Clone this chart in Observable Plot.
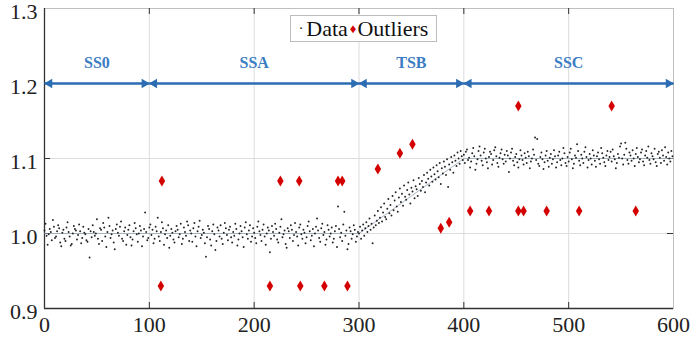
<!DOCTYPE html>
<html>
<head>
<meta charset="utf-8">
<script src="https://cdn.jsdelivr.net/npm/d3@7"></script>
<script src="https://cdn.jsdelivr.net/npm/@observablehq/plot@0.6"></script>
<style>
  body { margin: 0; background: white; }
  #wrap { position: relative; width: 691px; height: 343px; }
  #legend {
    position: absolute; left: 290px; top: 15px; width: 147px; height: 27px;
    border: 1px solid #bdbdbd; background: white; box-sizing: border-box;
    font-family: "Liberation Serif", serif; font-size: 22px; color: #111;
    display: flex; align-items: center; justify-content: center; white-space: nowrap;
    line-height: 1;
  }
  #legend .dot { font-size: 14px; margin-right: 3px; }
  #legend .dia { color: #d40000; font-size: 13px; margin: 0 1px 0 2px; }
</style>
</head>
<body>
<div id="wrap">
  <div id="legend"><span class="dot">·</span>Data<span class="dia">♦</span>Outliers</div>
</div>
<script>
// ---- data ----
const dataValues = [
1.004,1.013,0.997,0.985,0.999,1.006,1.002,0.991,1.018,1.009,0.994,0.996,1.003,1.011,1.007,0.988,0.983,1.001,1.005,0.993,
0.990,1.008,1.015,1.002,0.996,0.984,0.986,1.000,1.010,1.006,1.004,0.992,0.998,1.012,1.003,0.987,0.994,1.009,1.001,0.999,
0.991,0.989,1.006,0.968,1.003,0.995,1.011,1.002,0.997,1.000,1.019,0.993,0.986,1.007,1.005,0.990,1.014,1.008,0.996,0.982,
1.002,1.021,1.010,0.994,0.999,1.004,0.988,0.979,1.006,1.012,1.001,0.997,1.009,1.016,0.993,0.990,1.003,1.008,0.985,0.998,
1.005,1.011,0.995,0.984,0.992,1.003,1.014,1.007,0.999,0.989,1.000,1.010,1.004,0.983,0.996,1.006,1.028,1.002,0.991,0.994,
1.008,1.012,0.998,1.005,0.987,0.993,1.009,1.003,1.021,0.996,0.990,1.002,1.015,1.007,0.985,0.999,1.004,0.994,1.011,0.981,
0.997,1.006,1.001,0.992,0.988,1.003,1.010,1.005,0.995,0.999,1.013,0.986,0.993,1.008,1.002,0.997,1.016,1.011,0.990,1.004,
1.000,0.989,1.007,1.014,0.996,0.983,1.003,1.009,1.017,0.994,0.998,1.005,1.001,0.987,0.969,0.995,1.010,1.006,0.992,0.984,
1.003,1.012,0.999,0.978,0.990,1.008,1.004,0.996,1.011,0.993,0.986,1.001,1.014,1.007,0.998,0.991,1.005,1.009,0.995,0.988,
1.002,0.997,1.013,1.006,0.984,0.992,1.000,1.010,1.003,0.995,0.982,1.008,1.015,0.999,0.993,1.004,1.011,0.989,0.996,1.007,
1.001,0.994,0.987,1.009,1.016,1.003,0.998,0.990,1.005,1.012,0.996,0.985,1.000,1.008,1.004,0.975,0.993,1.010,1.002,0.997,
1.013,1.006,0.992,0.988,1.001,1.009,1.019,0.995,0.999,1.004,0.986,0.981,1.007,1.003,0.994,1.011,1.005,0.990,0.998,1.014,
1.002,0.996,0.984,1.008,1.012,0.999,0.993,1.005,1.001,0.987,0.995,1.010,1.016,1.003,0.991,0.997,1.006,0.983,1.000,1.009,
1.020,1.004,0.994,0.989,1.007,1.013,0.998,1.002,0.985,0.992,1.011,1.005,0.996,1.000,1.008,0.988,0.993,1.003,1.010,0.982,
1.036,1.006,0.995,1.001,0.990,1.012,1.029,0.997,1.004,0.979,0.986,1.008,1.003,0.993,0.999,1.011,1.005,0.989,0.996,1.002,
1.000,1.009,0.993,1.004,1.012,0.997,1.007,1.015,1.002,1.010,1.020,1.005,1.013,0.987,1.008,1.024,1.011,1.017,1.030,1.014,
1.021,1.035,1.016,1.028,1.040,1.022,1.019,1.033,1.046,1.027,1.038,1.024,1.050,1.031,1.044,1.055,1.036,1.029,1.048,1.060,
1.042,1.053,1.037,1.064,1.049,1.045,1.058,1.068,1.052,1.040,1.061,1.056,1.071,1.047,1.063,1.059,1.050,1.074,1.066,1.057,
1.070,1.062,1.078,1.055,1.068,1.081,1.073,1.064,1.085,1.076,1.069,1.088,1.079,1.072,1.091,1.083,1.075,1.094,1.066,1.087,
1.080,1.096,1.089,1.078,1.099,1.062,1.092,1.085,1.102,1.095,1.081,1.104,1.097,1.090,1.108,1.100,1.093,1.110,1.103,1.098,
1.105,1.094,1.109,1.112,1.098,1.101,1.088,1.096,1.107,1.114,1.103,1.085,1.093,1.099,1.110,1.116,1.104,1.097,1.091,1.108,
1.113,1.100,1.095,1.087,1.102,1.109,1.106,1.092,1.098,1.111,1.115,1.103,1.094,1.089,1.101,1.107,1.112,1.099,1.093,1.105,
1.096,1.110,1.104,1.082,1.100,1.108,1.113,1.097,1.091,1.102,1.106,1.095,1.088,1.099,1.111,1.104,1.098,1.092,1.107,1.101,
1.094,1.109,1.103,1.087,1.096,1.100,1.112,1.105,1.128,1.098,1.126,1.093,1.090,1.102,1.108,1.099,1.086,1.095,1.104,1.110,
1.097,1.089,1.101,1.106,1.093,1.099,1.111,1.103,1.088,1.095,1.104,1.109,1.098,1.091,1.100,1.114,1.107,1.094,1.090,1.102,
1.096,1.108,1.113,1.099,1.087,1.093,1.104,1.101,1.119,1.110,1.097,1.091,1.105,1.100,1.094,1.109,1.115,1.102,1.088,1.098,
1.106,1.100,1.092,1.111,1.104,1.097,1.089,1.103,1.108,1.099,1.093,1.114,1.107,1.101,1.095,1.090,1.104,1.110,1.098,1.102,
1.109,1.096,1.112,1.103,1.099,1.087,1.094,1.106,1.101,1.116,1.120,1.100,1.092,1.105,1.121,1.113,1.098,1.093,1.108,1.104,
1.097,1.111,1.100,1.090,1.106,1.114,1.102,1.095,1.099,1.108,1.112,1.096,1.091,1.104,1.110,1.101,1.116,1.098,1.093,1.107,
1.103,1.099,1.113,1.095,1.090,1.106,1.109,1.101,1.094,1.111,1.104,1.097,1.115,1.102,1.092,1.108,1.100,1.096,1.110,1.103
];
const outlierX = [111,112,215,225,243,244,267,280,284,289,318,339,351,378,386,406,424,452,452,457,479,510,541,564];
const outlierY = [0.93,1.07,0.93,1.07,1.07,0.93,0.93,1.07,1.07,0.93,1.086,1.107,1.119,1.007,1.015,1.03,1.03,1.03,1.17,1.03,1.03,1.03,1.17,1.03];
const trendX = [0, 300, 400, 600];
const trendY = [1.0, 1.0, 1.1, 1.1];
const phaseNames = ["SS0", "SSA", "TSB", "SSC"];
const phaseStart = [0, 100, 300, 400];
const phaseEnd = [100, 300, 400, 600];
const phaseLevel = 1.2;
const xTicks = [0, 100, 200, 300, 400, 500, 600];
const yTicks = [0.9, 1.0, 1.1, 1.2, 1.3];

// ---- tables ----
const points = dataValues.map((v, i) => ({x: i, y: v}));
const outliers = outlierX.map((x, i) => ({x, y: outlierY[i]}));
const trend = trendX.map((x, i) => ({x, y: trendY[i]}));
const phases = phaseNames.map((name, i) => ({name, x1: phaseStart[i], x2: phaseEnd[i], mid: (phaseStart[i] + phaseEnd[i]) / 2, y: phaseLevel}));

const blue = "#2b6cb3";
const innerX = xTicks.slice(1, -1);
const innerY = yTicks.slice(1, -1);
const chart = Plot.plot({
  width: 691, height: 343,
  marginLeft: 44, marginRight: 18, marginTop: 8, marginBottom: 35,
  x: {domain: [0, 600], ticks: xTicks},
  y: {domain: [0.9, 1.3], ticks: yTicks},
  style: {fontFamily: "'Liberation Serif', serif", fontSize: "22px", color: "#222", background: "white"},
  marks: [
    Plot.gridX(innerX, {stroke: "#dcdcdc", strokeOpacity: 1}),
    Plot.gridY(innerY, {stroke: "#dcdcdc", strokeOpacity: 1}),
    Plot.frame({stroke: "#c0c0c0"}),
    Plot.axisX(xTicks, {tickSize: 0, tickPadding: 8, tickFormat: d => d, fontSize: 22, label: null}),
    Plot.axisY(yTicks, {tickSize: 0, tickPadding: 7, dy: 3, tickFormat: d => d.toFixed(1), fontSize: 22, label: null}),
    Plot.tickX(innerX, {stroke: "#333", insetTop: 294}),
    Plot.tickX(innerX, {stroke: "#333", insetBottom: 294}),
    Plot.tickY(innerY, {stroke: "#333", insetRight: 623}),
    Plot.tickY(innerY, {stroke: "#333", insetLeft: 623}),
    Plot.ruleX([0], {stroke: "#333", strokeWidth: 1.3}),
    Plot.ruleY([0.9], {stroke: "#333", strokeWidth: 1.3}),
    Plot.line(trend, {x: "x", y: "y", stroke: "#8a9bb0", strokeWidth: 0.7}),
    Plot.dot(points, {x: "x", y: "y", r: 0.95, fill: "#222", stroke: null}),
    Plot.dot(outliers, {x: "x", y: "y", symbol: "diamond", r: 3.4, fill: "#d40000", stroke: null}),
    Plot.link(phases, {x1: "x1", x2: "x2", y1: "y", y2: "y", stroke: blue, strokeWidth: 2.5}),
    Plot.dot(phases, {x: "x1", y: "y", symbol: "triangle2", rotate: -90, r: 4.5, fill: blue, stroke: null, dx: 5}),
    Plot.dot(phases, {x: "x2", y: "y", symbol: "triangle2", rotate: 90, r: 4.5, fill: blue, stroke: null, dx: -5}),
    Plot.text(phases, {x: "mid", y: "y", text: "name", dy: -21, fill: "#3b7dc4", fontWeight: "bold", fontSize: 16, fontFamily: "'Liberation Serif', serif"})
  ]
});
document.getElementById("wrap").prepend(chart);
</script>
</body>
</html>
